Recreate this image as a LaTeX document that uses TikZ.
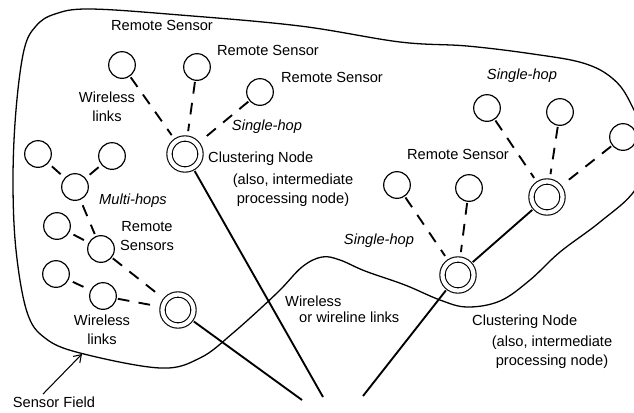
\documentclass[tikz,border=0pt]{standalone}
\usepackage{fontspec}
\setmainfont{Liberation Sans}
\usetikzlibrary{arrows.meta}

\begin{document}
\begin{tikzpicture}[
    x=0.03cm, y=-0.03cm,
    sensore/.style={
        circle,
        draw,
        line width=1pt,
        minimum size=0.8cm,
        inner sep=0pt
    },
    nodocluster/.style={
        circle,
        draw,
        double,
        double distance=3.6pt,
        line width=0.95pt,
        minimum size=0.93cm,
        inner sep=0pt
    },
    radio/.style={
        line width=1.6pt,
        dash pattern=on 10pt off 8pt,
        shorten <=1pt,
        shorten >=2pt
    },
    versohub/.style={
        shorten >=6pt
    },
    cavo/.style={
        line width=1.6pt,
        shorten <=3pt
    },
    etichetta/.style={
        align=center,
        inner sep=0pt,
        font=\fontsize{12.5}{16}\selectfont
    },
    corsivo/.style={
        etichetta,
        font=\fontsize{12.5}{16}\selectfont\itshape
    }
]

    \useasboundingbox (0,0) rectangle (634,412);
    \clip (0,0) rectangle (634,412);

    % Bordo del campo di sensori
    \draw[line width=1.1pt] plot[smooth cycle, tension=0.6] coordinates {
        (55,14) (90,9) (180,15) (300,26) (400,42) (467,46) (533,54)
        (583,63) (612,78) (630,102) (648,150) (635,190) (600,222)
        (560,252) (530,280) (500,301) (467,307) (440,300) (405,285)
        (365,271) (340,260) (322,257) (302,267) (277,293) (233,333)
        (200,358) (160,368) (80,353) (45,338) (27,312) (16,250)
        (13,180) (16,110) (24,50) (36,26)
    };

    % Sensori remoti e nodi di cluster
    \node[nodocluster] (hub_alto) at (185,154) {};
    \node[nodocluster] (hub_sx) at (178,310) {};
    \node[nodocluster] (hub_dx) at (547,197) {};
    \node[nodocluster] (hub_centro) at (458,275) {};

    \node[sensore] (sens_a) at (122,65) {};
    \node[sensore] (sens_b) at (197,67) {};
    \node[sensore] (sens_c) at (260,92) {};

    \node[sensore] (sens_d) at (38,154) {};
    \node[sensore] (sens_e) at (112,156) {};
    \node[sensore] (sens_f) at (75,187) {};
    \node[sensore] (sens_l) at (57,226) {};
    \node[sensore] (sens_m) at (101,249) {};
    \node[sensore] (sens_n) at (56,274) {};
    \node[sensore] (sens_o) at (103,296) {};

    \node[sensore] (sens_g) at (487,108) {};
    \node[sensore] (sens_h) at (560,112) {};
    \node[sensore] (sens_i) at (623,137) {};
    \node[sensore] (sens_j) at (397,185) {};
    \node[sensore] (sens_k) at (469,188) {};

    % Collegamenti radio (tratteggiati)
    \draw[radio, versohub] (sens_a) -- (hub_alto);
    \draw[radio, versohub] (sens_b) -- (hub_alto);
    \draw[radio, versohub] (sens_c) -- (hub_alto);

    \draw[radio, shorten <=4pt, shorten >=4pt] (sens_d) -- (sens_f);
    \draw[radio, shorten <=3pt] (sens_e) -- (sens_f);
    \draw[radio, shorten <=5pt] (sens_f) -- (sens_m);
    \draw[radio, shorten <=4pt, shorten >=4pt] (sens_l) -- (sens_m);
    \draw[radio, versohub] (sens_m) -- (hub_sx);
    \draw[radio, shorten <=4pt, shorten >=4pt] (sens_n) -- (sens_o);
    \draw[radio, versohub] (sens_o) -- (hub_sx);

    \draw[radio, versohub] (sens_g) -- (hub_dx);
    \draw[radio, versohub] (sens_h) -- (hub_dx);
    \draw[radio, versohub] (sens_i) -- (hub_dx);
    \draw[radio, versohub] (sens_j) -- (hub_centro);
    \draw[radio, versohub] (sens_k) -- (hub_centro);

    % Collegamenti verso il basso (radio o via cavo)
    \coordinate (fine_sx) at (302,400);
    \coordinate (fine_alto) at (323,397);
    \coordinate (fine_dx) at (363,396);
    \draw[cavo] (hub_sx) -- (fine_sx);
    \draw[cavo] (hub_alto) -- (fine_alto);
    \draw[cavo] (hub_centro) -- (fine_dx);
    \draw[cavo, shorten >=3pt] (hub_dx) -- (hub_centro);

    % Etichette
    \node[etichetta] (rs_uno) at (162,25) {Remote Sensor};
    \node[etichetta] (rs_due) at (268,50) {Remote Sensor};
    \node[etichetta] (rs_tre) at (332,77) {Remote Sensor};
    \node[etichetta] (radio_alto) at (107,107) {Wireless\\links};
    \node[corsivo] (hop_uno) at (267,127) {Single-hop};
    \node[etichetta, anchor=west] (cluster_uno) at (208,159) {Clustering Node};
    \node[etichetta] (nota_uno) at (293,190) {(also, intermediate\\processing node)};

    \node[corsivo] (multi) at (133,201) {Multi-hops};
    \node[etichetta] (rs_sx) at (147,236) {Remote\\Sensors};
    \node[etichetta] (radio_basso) at (102,330) {Wireless\\links};

    \node[etichetta, anchor=west] (filo_uno) at (285,301) {Wireless};
    \node[etichetta, anchor=west] (filo_due) at (299,317) {or wireline links};

    \node[corsivo] (hop_due) at (379,241) {Single-hop};
    \node[etichetta] (rs_dx) at (458,154) {Remote Sensor};
    \node[corsivo] (hop_tre) at (522,76) {Single-hop};
    \node[etichetta, anchor=west] (cluster_due) at (472,322) {Clustering Node};
    \node[etichetta] (nota_due) at (552,352) {(also, intermediate\\processing node)};

    % Freccia del campo
    \node[etichetta] (campo) at (54,402) {Sensor Field};
    \coordinate (bordo_campo) at (82,354);
    \draw[line width=0.9pt, -{Straight Barb[length=6pt, width=8pt]}]
        ([xshift=-0.33cm, yshift=2pt]campo.north) -- (bordo_campo);

\end{tikzpicture}
\end{document}
